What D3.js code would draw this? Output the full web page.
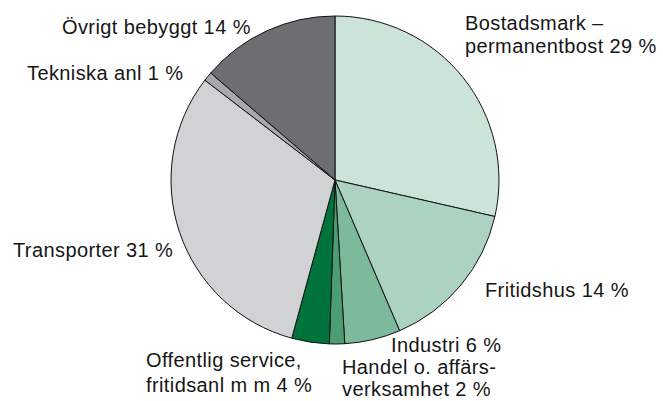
<!DOCTYPE html>
<html>
<head>
<meta charset="utf-8">
<script src="https://cdn.jsdelivr.net/npm/d3@7"></script>
<style>
    body { margin: 0; background: #ffffff; }
    svg { display: block; }
    text { font-family: "Liberation Sans", Arial, sans-serif; font-size: 20px; fill: #161616; }
</style>
</head>
<body>
<svg id="canvas" width="663" height="401"></svg>
<script>
// slices, clockwise from 12 o'clock
var categories = ['Bostadsmark', 'Fritidshus', 'Industri', 'Handel', 'Offentlig', 'Transporter', 'Tekniska', 'Övrigt'];
var values = [28.6, 15.0, 5.5, 1.5, 3.7, 31.2, 0.9, 13.7];
var colors = ['#cce4d8', '#acd3c0', '#7dba9c', '#4a9e72', '#00743a', '#d1d2d4', '#a7a9ac', '#6d6e71'];
var labelLines = [
    ['Bostadsmark –', 'permanentbost 29 %'],
    ['Fritidshus 14 %'],
    ['Industri 6 %'],
    ['Handel o. affärs-', 'verksamhet 2 %'],
    ['Offentlig service,', 'fritidsanl m m 4 %'],
    ['Transporter 31 %'],
    ['Tekniska anl 1 %'],
    ['Övrigt bebyggt 14 %']
];
// where each label block starts (left x, first baseline y)
var labelPos = [[465, 30], [485, 297], [391, 352], [342, 374], [146, 367], [13, 257], [27, 80], [62, 34]];
var lineGap = [23, 0, 0, 22, 25, 0, 0, 0];

(function() {
    var cx = 335, cy = 180, radius = 164;
    var svg = d3.select('#canvas');

    var pie = d3.pie().sort(null).value(function(d) { return d; });
    var arc = d3.arc().innerRadius(0).outerRadius(radius);
    var color = d3.scaleOrdinal().domain(categories).range(colors);

    var g = svg.append('g')
        .attr('transform', 'translate(' + cx + ',' + cy + ')');

    g.selectAll('path')
        .data(pie(values))
        .enter().append('path')
        .attr('d', arc)
        .attr('fill', function(d, i) { return color(categories[i]); })
        .attr('stroke', '#111111')
        .attr('stroke-width', 1)
        .attr('stroke-linejoin', 'round');

    var labels = svg.append('g').attr('class', 'labels')
        .selectAll('text')
        .data(labelLines)
        .enter().append('text')
        .attr('x', function(d, i) { return labelPos[i][0]; })
        .attr('y', function(d, i) { return labelPos[i][1]; })
        .style('letter-spacing', '0.4px');

    labels.selectAll('tspan')
        .data(function(d, i) {
            return d.map(function(t) { return {t: t, x: labelPos[i][0], gap: lineGap[i]}; });
        })
        .enter().append('tspan')
        .attr('x', function(d) { return d.x; })
        .attr('dy', function(d, j) { return j === 0 ? 0 : d.gap; })
        .text(function(d) { return d.t; });
})();
</script>
</body>
</html>
